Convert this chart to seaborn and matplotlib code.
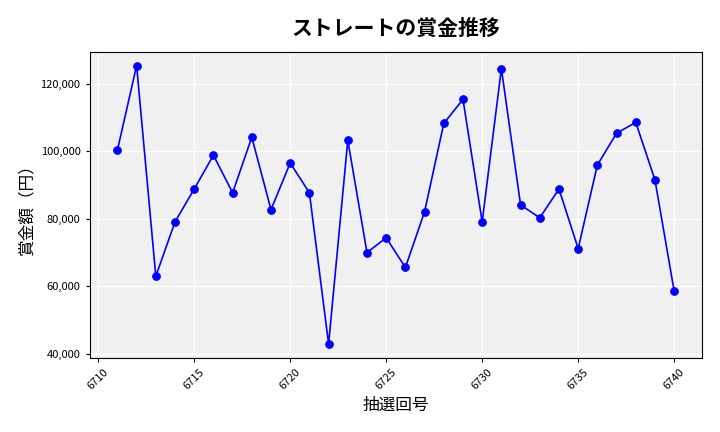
import matplotlib
matplotlib.use('Agg')
import matplotlib.pyplot as plt
import seaborn as sns
import pandas as pd
from matplotlib.ticker import FuncFormatter

# --- データ ---
draws = list(range(6711, 6741))
prizes = [100300, 125300, 63000, 79100, 88800, 98800, 87700, 104100, 82700, 96500,
          87700, 43000, 103200, 70000, 74400, 65600, 82100, 108200, 115300, 79100,
          124400, 84100, 80300, 88800, 71200, 95900, 105300, 108500, 91500, 58600]

df = pd.DataFrame({'draw': draws, 'prize': prizes})

sns.set_theme(style='whitegrid')
plt.rcParams['font.family'] = ['Noto Sans CJK JP', 'DejaVu Sans']
plt.rcParams['text.color'] = 'black'
plt.rcParams['axes.labelcolor'] = 'black'

fig, ax = plt.subplots(figsize=(7.2, 4.32), dpi=100)
ax.set_facecolor('#f0f0f0')
sns.lineplot(data=df, x='draw', y='prize', ax=ax, color='blue', marker='o',
             markersize=5.5, markeredgecolor='blue', linewidth=1.2)

ax.set_title('ストレートの賞金推移', fontsize=15, fontweight='bold', pad=12)
ax.set_xlabel('抽選回号', fontsize=12)
ax.set_ylabel('賞金額（円）', fontsize=12)
ax.yaxis.set_major_formatter(FuncFormatter(lambda v, p: f'{int(v):,}'))
ax.tick_params(axis='both', colors='black', length=3, width=0.8, bottom=True, left=True)
ax.tick_params(axis='x', labelrotation=45, labelsize=8)
ax.tick_params(axis='y', labelsize=8)
for s in ax.spines.values():
    s.set_edgecolor('black')
    s.set_linewidth(0.8)
ax.grid(True, color='white', linewidth=1)

plt.tight_layout()
plt.savefig('out.png')
plt.close()
